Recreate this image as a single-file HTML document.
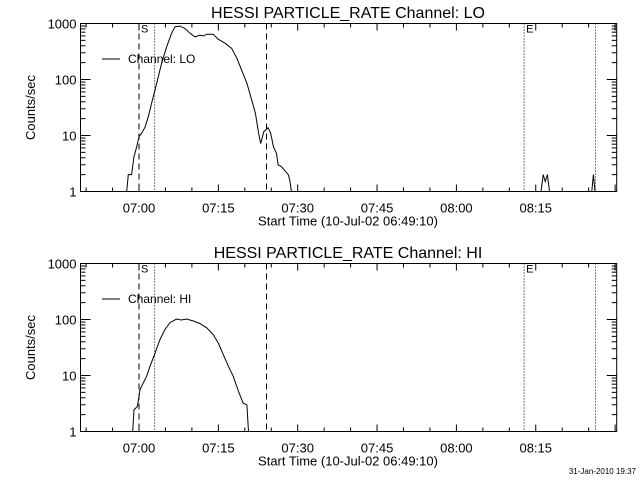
<!DOCTYPE html>
<html><head><meta charset="utf-8"><style>
body{margin:0;background:#fff;width:640px;height:480px;overflow:hidden}
svg{display:block;font-family:"Liberation Sans",sans-serif}
</style></head><body>
<svg id="c" width="640" height="480" viewBox="0 0 640 480"></svg>
<script>
// data: minutes after 07:00, counts/sec
const loTimes=[-2.33,-2.02,-1.39,-0.95,-0.44,0,0.5,1.13,1.76,2.39,3.02,3.65,4.28,5.23,6.17,6.8,7.75,8.7,9.64,10.6,11.5,12.2,12.8,14.0,15,16.3,17.5,18.5,19.4,20.4,21.3,22.0,22.6,23.0,23.6,24.4,24.9,25.4,26.0,26.3,26.9,28.2,28.5,28.8];
const loValues=[1,2,2,4.2,6.3,9.5,11,14,21.7,37.6,65,112,195,385,668,875,900,815,668,577,620,600,645,645,525,443,360,239,147,86,43,25,11,7.2,11.7,13.8,11,6.3,4.8,3,2.8,2,1.6,1];
const loSpike1Times=[76.0,76.4,76.8,77.2,77.6];
const loSpike1Values=[1,2,1.5,2,1];
const loSpike2Times=[85.6,85.9,86.2];
const loSpike2Values=[1,2,1];
const hiTimes=[-1.2,-0.95,-0.3,0.19,0.82,1.45,2.08,3.02,3.97,4.9,5.86,7.1,8.0,9.0,10.3,11.5,12.8,14.0,15,15.9,16.9,17.8,18.8,19.7,20.4,20.7];
const hiValues=[1,2.45,2.8,5.6,7.4,9.7,14.6,25,44,66,88,102,98,102,94,85,71,54,38,24,14.6,9.7,5.2,3.2,3,1];
const xTickLabels=["07:00","07:15","07:30","07:45","08:00","08:15"];
const xTickMinutes=[0,15,30,45,60,75];
const yTickLabels=["1","10","100","1000"];
const yTickValues=[1,10,100,1000];
const dashedLines=[0,24.1];
const dottedLines=[2.95,72.8,86.3];

const NS="http://www.w3.org/2000/svg";
const svg=document.getElementById('c');
const X0=80.5,X1=616.7,PXMIN=5.29,X07=139;
function xs(m){return X07+m*PXMIN;}
function mk(tag,attrs,parent){const e=document.createElementNS(NS,tag);for(const k in attrs)e.setAttribute(k,attrs[k]);(parent||svg).appendChild(e);return e;}

function panel(off,name,label,series){
  const top=23.5+off,bot=191.5+off,dec=(bot-top)/3;
  const ys=v=>bot-Math.log10(Math.max(v,1))*dec;
  const g=mk('g',{});
  
  
  const t=mk('text',{x:348,y:18+off,'text-anchor':'middle','font-size':16},g);
  t.textContent='HESSI PARTICLE_RATE Channel: '+label;
  
  const fr=mk('rect',{x:X0,y:top,width:X1-X0,height:bot-top,fill:'none',stroke:'#000','stroke-width':1},g);
  
  for(let m=-10;m<=90;m+=5){const x=xs(m);if(x<X0||x>X1)continue;const L=(m%15===0)?7:4;
    mk('line',{x1:x,x2:x,y1:bot,y2:bot-L,stroke:'#000'},g);mk('line',{x1:x,x2:x,y1:top,y2:top+L,stroke:'#000'},g);}
  xTickMinutes.forEach((m,i)=>{const tx=mk('text',{x:xs(m),y:bot+21,'text-anchor':'middle','font-size':13},g);tx.textContent=xTickLabels[i];
    });
  const xt=mk('text',{x:348,y:bot+34,'text-anchor':'middle','font-size':13},g);xt.textContent='Start Time (10-Jul-02 06:49:10)';
  
  for(let d=0;d<3;d++)for(let k=1;k<=9;k++){const y=ys(Math.pow(10,d)*k);const L=k===1?10:5;
    mk('line',{x1:X0,x2:X0+L,y1:y,y2:y,stroke:'#000'},g);mk('line',{x1:X1,x2:X1-L,y1:y,y2:y,stroke:'#000'},g);}
  yTickValues.forEach((v,i)=>{const ty=mk('text',{x:X0-4,y:ys(v)+5,'text-anchor':'end','font-size':13},g);ty.textContent=yTickLabels[i];
    });
  const yl=mk('text',{x:35,y:(top+bot)/2,'text-anchor':'middle','font-size':13,transform:'rotate(-90 35 '+((top+bot)/2)+')'},g);yl.textContent='Counts/sec';
  
  dashedLines.forEach(m=>{const l=mk('line',{x1:xs(m),x2:xs(m),y1:top,y2:bot,stroke:'#000','stroke-dasharray':'6,4'},g);
    });
  dottedLines.forEach(m=>{const l=mk('line',{x1:xs(m),x2:xs(m),y1:top,y2:bot,stroke:'#000','stroke-dasharray':'1,2'},g);
    });
  const s=mk('text',{x:xs(0)+2,y:top+9,'font-size':11},g);s.textContent='S';
  
  const e=mk('text',{x:xs(72.8)+2,y:top+9,'font-size':11},g);e.textContent='E';
  
  series.forEach(([ts,vs])=>{const pts=ts.map((m,i)=>xs(m).toFixed(1)+','+ys(vs[i]).toFixed(1)).join(' ');
    const p=mk('polyline',{points:pts,fill:'none',stroke:'#000','stroke-width':1},g);
    });
  const lg=mk('g',{},g);
  mk('line',{x1:102,x2:120,y1:59+off,y2:59+off,stroke:'#000'},lg);
  const lt=mk('text',{x:128,y:63+off,'font-size':12},lg);lt.textContent='Channel: '+label;
}
panel(0,'lo','LO',[[loTimes,loValues],[loSpike1Times,loSpike1Values],[loSpike2Times,loSpike2Values]]);
panel(240,'hi','HI',[[hiTimes,hiValues]]);
const ds=mk('text',{x:636,y:474,'text-anchor':'end','font-size':8});ds.textContent='31-Jan-2010 19:37';

</script>
</body></html>
